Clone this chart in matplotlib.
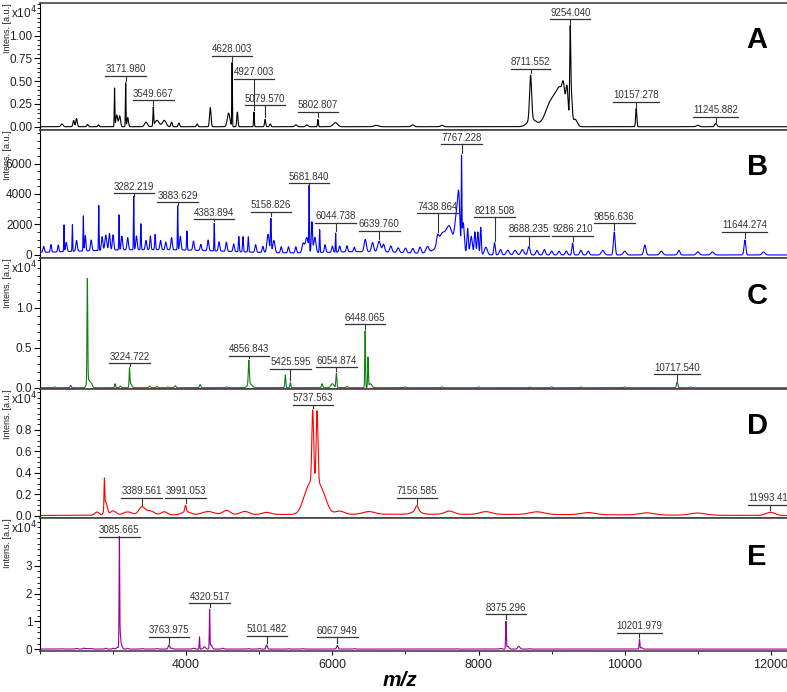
import numpy as np
import matplotlib
matplotlib.use('Agg')
import matplotlib.pyplot as plt
from matplotlib.ticker import FixedLocator, FormatStrFormatter, MultipleLocator

plt.rcParams['font.family'] = ['Liberation Sans', 'DejaVu Sans']

mz_lo, mz_hi = 2000, 12220

# peak tables: m/z, intensity (a.u.), peak width (sigma, m/z)
a_mz = [2300, 2460, 2500, 2650, 2800, 3020, 3050, 3090, 3171.98, 3200, 3450, 3549.667,
        3600, 3700, 3800, 3900, 4150, 4330, 4580, 4628.003, 4700, 4927.003, 5079.57, 5150,
        5500, 5650, 5802.807, 6040, 6600, 7100, 7500, 8711.552, 8730, 9000, 9130, 9160,
        9210, 9254.04, 9270, 9320, 10157.278, 11000, 11245.882]
a_int = [300, 700, 900, 250, 200, 4200, 1300, 1200, 4800, 1000, 500, 2000,
         700, 700, 500, 400, 300, 2100, 1500, 7000, 1600, 1600, 800, 300,
         200, 200, 800, 450, 150, 200, 150, 4900, 800, 2800, 3500, 1500,
         3000, 9300, 3000, 800, 2000, 150, 350]
a_wid = [15, 10, 10, 10, 10, 4, 12, 12, 4, 10, 20, 5,
         30, 25, 10, 10, 10, 10, 18, 4, 8, 5, 8, 10,
         15, 15, 6, 30, 30, 20, 20, 14, 60, 80, 60, 15,
         15, 7, 12, 30, 8, 20, 15]
a_lab = [3171.980, 3549.667, 4628.003, 4927.003, 5079.570, 5802.807,
         8711.552, 9254.040, 10157.278, 11245.882]
a_lev = [0.557, 0.29, 0.777, 0.53, 0.235, 0.165, 0.64, 1.18, 0.275, 0.11]

b_mz = [3500, 6500, 7550, 2050, 2150, 2250, 2329, 2360, 2443, 2500, 2593, 2620, 2700,
        2804, 2850, 2900, 2950, 3000, 3082, 3120, 3200, 3282.219, 3320, 3380, 3450,
        3510, 3575, 3650, 3720, 3800, 3883.629, 3920, 4010, 4100, 4200, 4300,
        4383.894, 4450, 4550, 4650, 4720, 4777, 4850, 4950, 5050, 5120, 5158.826,
        5200, 5300, 5400, 5500, 5600, 5650, 5681.84, 5720, 5760, 5826, 5900, 6000,
        6044.738, 6100, 6200, 6300, 6450, 6550, 6639.76, 6700, 6800, 6900, 7000,
        7100, 7200, 7300, 7440, 7500, 7600, 7700, 7730, 7767.228, 7790, 7850, 7900,
        7950, 7990, 8030, 8100, 8218.508, 8300, 8400, 8500, 8600, 8688.235, 8800,
        8900, 9000, 9100, 9200, 9286.21, 9400, 9500, 9700, 9856.636, 10000, 10275,
        10500, 10741, 11000, 11200, 11644.274, 11900]
b_int = [350, 200, 700, 400, 500, 450, 1750, 600, 1750, 700, 2300, 1000, 700,
         2950, 900, 1000, 1100, 1000, 2300, 900, 800, 3500, 900, 1700, 600,
         900, 1000, 600, 500, 800, 2900, 900, 1250, 600, 400, 700,
         1800, 600, 600, 500, 1000, 1000, 1000, 500, 400, 1200, 2200,
         800, 400, 400, 400, 600, 1000, 4150, 2000, 1000, 1500, 500, 400,
         1250, 400, 400, 300, 800, 600, 700, 500, 400, 300, 300,
         300, 400, 400, 600, 700, 1200, 2200, 2800, 5600, 2000, 1700, 1200,
         1500, 1500, 1800, 500, 800, 350, 300, 300, 350, 550, 300,
         350, 250, 250, 250, 790, 300, 250, 300, 1500, 250, 650,
         250, 300, 200, 200, 980, 200]
b_wid = [1200, 600, 120, 10, 8, 8, 4, 10, 4, 10, 4, 8, 10,
         4, 10, 12, 10, 10, 4, 10, 10, 4, 10, 5, 10,
         8, 6, 10, 10, 10, 4, 10, 5, 10, 10, 10,
         4, 10, 10, 10, 6, 6, 6, 10, 10, 15, 6,
         15, 10, 10, 10, 15, 20, 4, 8, 15, 5, 10, 10,
         4, 10, 10, 10, 15, 15, 20, 15, 15, 15, 15,
         15, 15, 20, 15, 40, 40, 25, 15, 4, 15, 10, 15,
         10, 10, 8, 20, 10, 15, 20, 20, 20, 15, 15,
         15, 15, 15, 15, 10, 15, 15, 20, 12, 20, 15,
         20, 15, 20, 20, 12, 20]
b_lab = [3282.219, 3883.629, 4383.894, 5158.826, 5681.840, 6044.738, 6639.760,
         7438.864, 7767.228, 8218.508, 8688.235, 9286.210, 9856.636, 11644.274]
b_lev = [4046, 3456, 2341, 2820, 4700, 2118, 1574,
         2734, 7260, 2472, 1245, 1245, 2078, 1530]

c_mz = [2200, 2420, 2648, 2660, 2700, 3027, 3100, 3224.722, 3240, 3500, 3600, 3750,
        3850, 4190, 4550, 4856.843, 4870, 5356, 5425.595, 5859, 6000, 6054.874, 6200,
        6448.065, 6488, 6520, 7000, 7500, 8000, 8700, 9000, 9400, 10000, 10717.54, 10900]
c_int = [100, 300, 12800, 1000, 500, 500, 200, 2200, 500, 200, 150, 100,
         250, 400, 100, 3000, 500, 1600, 700, 500, 500, 1800, 150,
         7100, 3700, 500, 100, 100, 100, 80, 100, 80, 100, 750, 100]
c_wid = [10, 8, 5, 20, 15, 6, 10, 5, 15, 10, 10, 10,
         10, 8, 10, 7, 30, 6, 6, 8, 20, 7, 10,
         5, 5, 20, 10, 10, 10, 10, 10, 10, 10, 9, 10]
c_lab = [3224.722, 4856.843, 5425.595, 6054.874, 6448.065, 10717.540]
c_lev = [0.305, 0.40, 0.24, 0.255, 0.79, 0.167]

d_mz = [7000, 2780, 2881, 2900, 3000, 3200, 3389.561, 3500, 3700, 3991.053, 4000, 4300,
        4550, 4800, 5100, 5640, 5731, 5760, 5791, 5880, 6100,
        6500, 7156.585, 7150, 7600, 8100, 8800, 9500, 10300, 11000, 11993.41]
d_int = [150, 300, 2700, 1200, 400, 300, 700, 400, 300, 600, 300, 300,
         400, 300, 200, 1000, 6500, 3000, 6500, 800, 300,
         250, 500, 300, 300, 250, 250, 200, 200, 200, 300]
d_wid = [3000, 30, 5, 20, 40, 60, 40, 60, 40, 10, 60, 80,
         50, 60, 60, 60, 12, 90, 12, 60, 60,
         80, 20, 60, 60, 80, 100, 100, 100, 100, 60]
d_lab = [3389.561, 3991.053, 5737.563, 7156.585, 11993.410]
d_lev = [0.165, 0.165, 1.03, 0.165, 0.10]

e_mz = [2300, 2500, 2600, 2650, 2700, 2900, 3000, 3060, 3085.665, 3095, 3110, 3200,
        3400, 3600, 3763.975, 3800, 4100, 4182, 4250, 4320.517, 4340, 4500, 4850, 5000,
        5101.482, 5400, 5600, 6067.949, 6300, 7700, 8300, 8375.296, 8400, 8550, 8700,
        10201.979, 10230]
e_int = [100, 200, 300, 250, 200, 300, 300, 600, 37500, 5000, 1500, 300,
         200, 200, 1500, 300, 300, 4400, 800, 13800, 1500, 300, 200, 200,
         1500, 150, 150, 1300, 150, 100, 200, 9800, 1000, 1000, 150,
         3500, 500]
e_wid = [10, 15, 15, 15, 15, 10, 10, 15, 4, 8, 15, 10,
         10, 10, 10, 15, 15, 4, 15, 4, 15, 15, 10, 10,
         10, 10, 10, 10, 10, 10, 15, 5, 15, 15, 10,
         5, 15]
e_lab = [3085.665, 3763.975, 4320.517, 5101.482, 6067.949, 8375.296, 10201.979]
e_lev = [4.05, 0.44, 1.65, 0.47, 0.42, 1.25, 0.59]

x_ticks = [4000, 6000, 8000, 10000, 12000]

panels = [
    dict(name='A', color='black', mz=a_mz, inten=a_int, wid=a_wid, lab=a_lab, lev=a_lev,
         scale=1e4, ylim=(-0.036, 1.36), yticks=[0, 0.25, 0.5, 0.75, 1.0], fmt='%.2f', minor=0.05),
    dict(name='B', color='#0000ff', mz=b_mz, inten=b_int, wid=b_wid, lab=b_lab, lev=b_lev,
         scale=1, ylim=(-200, 8200), yticks=[0, 2000, 4000, 6000], fmt='%d', minor=500),
    dict(name='C', color='#0f800f', mz=c_mz, inten=c_int, wid=c_wid, lab=c_lab, lev=c_lev,
         scale=1e4, ylim=(-0.016, 1.62), yticks=[0, 0.5, 1.0], fmt='%.1f', minor=0.1),
    dict(name='D', color='#ff0000', mz=d_mz, inten=d_int, wid=d_wid, lab=d_lab, lev=d_lev,
         scale=1e4, ylim=(-0.02, 1.18), yticks=[0, 0.2, 0.4, 0.6, 0.8], fmt='%.1f', minor=0.05),
    dict(name='E', color='#990099', mz=e_mz, inten=e_int, wid=e_wid, lab=e_lab, lev=e_lev,
         scale=1e4, ylim=(-0.07, 4.73), yticks=[0, 1, 2, 3], fmt='%d', minor=0.2),
]

grid = np.arange(mz_lo, mz_hi, 1.0)


def spectrum(p):
    y = np.zeros_like(grid)
    for m, h, s in zip(p['mz'], p['inten'], p['wid']):
        y += h * np.exp(-0.5 * ((grid - m) / s) ** 2)
    return y / p['scale']


fig = plt.figure(figsize=(7.87, 6.92), dpi=100)
gs = fig.add_gridspec(5, 1, height_ratios=[127, 128, 131, 129, 133],
                      left=40 / 787, right=1.0, top=1 - 3 / 692, bottom=1 - 651 / 692, hspace=0)
axes = [fig.add_subplot(gs[i]) for i in range(5)]

pending = []
for i, (ax, p) in enumerate(zip(axes, panels)):
    y = spectrum(p)
    ax.plot(grid, y, color=p['color'], lw=0.8)
    ax.set_xlim(mz_lo, mz_hi)
    ax.set_ylim(p['ylim'])

    ax.yaxis.set_major_locator(FixedLocator(p['yticks']))
    ax.yaxis.set_major_formatter(FormatStrFormatter(p['fmt']))
    ax.yaxis.set_minor_locator(MultipleLocator(p['minor']))
    ax.tick_params(axis='y', which='major', direction='out', length=4, width=0.8,
                   labelsize=8.5, pad=1.5, labelcolor='#222')
    ax.tick_params(axis='y', which='minor', direction='out', length=2, width=0.6)

    for side in ['top', 'bottom']:
        ax.spines[side].set_color('#444444')
        ax.spines[side].set_linewidth(1.2)
    ax.spines['left'].set_linewidth(0.8)
    ax.spines['right'].set_visible(False)

    if i < 4:
        ax.tick_params(axis='x', bottom=False, labelbottom=False)
    else:
        ax.xaxis.set_major_locator(FixedLocator(x_ticks))
        ax.xaxis.set_minor_locator(MultipleLocator(1000))
        ax.tick_params(axis='x', which='major', direction='out', length=3, width=0.8,
                       labelsize=9, pad=3, labelcolor='#222')
        ax.tick_params(axis='x', which='minor', direction='out', length=2, width=0.6)

    ax.text(-0.044, 1.0, 'Intens. [a.u.]', transform=ax.transAxes, rotation=90,
            ha='center', va='top', fontsize=6.5, color='#222', clip_on=False)
    if p['scale'] != 1:
        ax.text(-0.039, 0.985, 'x10$^4$', transform=ax.transAxes, ha='left', va='top',
                fontsize=8.5, color='#222', clip_on=False)
    ax.text(0.96, 0.71, p['name'], transform=ax.transAxes, ha='center', va='center',
            fontsize=21, fontweight='bold')

    for mz, lv in zip(p['lab'], p['lev']):
        t = ax.annotate(f'{mz:.3f}', xy=(mz, lv), xytext=(0, 1.2), textcoords='offset points',
                        ha='center', va='bottom', fontsize=7, color='#333')
        win = (grid > mz - 12) & (grid < mz + 12)
        pending.append((ax, t, mz, lv, y[win].max()))

fig.text(0.508, 0.016, 'm/z', ha='center', va='center', fontsize=15,
         fontweight='bold', fontstyle='italic')

# underline and leader line for every peak label
fig.canvas.draw()
renderer = fig.canvas.get_renderer()
for ax, t, mz, lv, top in pending:
    bb = t.get_window_extent(renderer)
    inv = ax.transData.inverted()
    x0 = inv.transform((bb.x0, 0))[0]
    x1 = inv.transform((bb.x1, 0))[0]
    px = (ax.get_ylim()[1] - ax.get_ylim()[0]) / ax.get_window_extent(renderer).height
    ax.plot([x0, x1], [lv, lv], color='#333', lw=0.9, clip_on=False)
    low = top + 2 * px
    if lv - low < 2 * px:
        low = lv - 2.5 * px
    ax.plot([mz, mz], [lv, low], color='#333', lw=0.8, clip_on=False)

fig.savefig('out.png', dpi=100)
